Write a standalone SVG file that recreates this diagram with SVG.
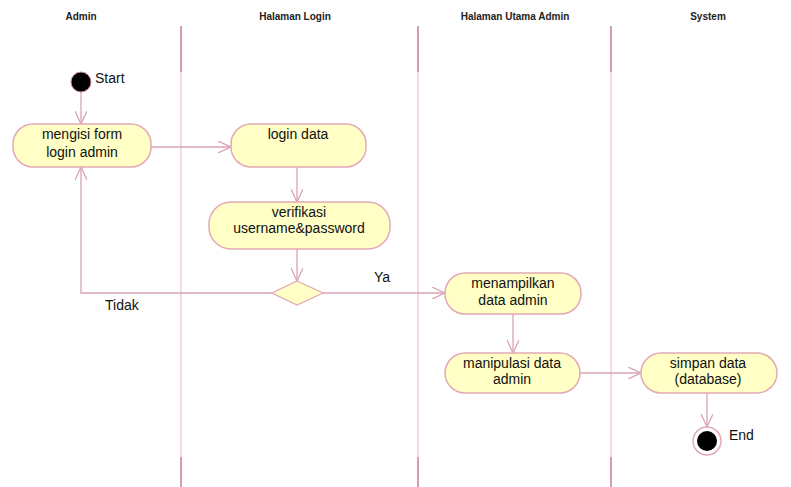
<svg xmlns="http://www.w3.org/2000/svg" width="791" height="487" viewBox="0 0 791 487">
<defs>
<style>
.hdr{font-family:"Liberation Sans",Arial,sans-serif;font-size:10px;font-weight:bold;fill:#222;text-anchor:middle}
.t{font-family:"Liberation Sans",Arial,sans-serif;font-size:14px;fill:#111;text-anchor:middle}
.lbl{font-family:"Liberation Sans",Arial,sans-serif;font-size:14px;fill:#111}
.act{fill:#ffffc6;stroke:#e3a9b4;stroke-width:1.5}
.conn{fill:none;stroke:#d9a3b6;stroke-width:1.3}
.laneDark{stroke:#c97a9a;stroke-width:1.5}
.laneLight{stroke:#ebc8d4;stroke-width:1.3}
</style>
<marker id="arr" viewBox="0 0 14 12" refX="13" refY="6" markerWidth="14" markerHeight="12" markerUnits="userSpaceOnUse" orient="auto">
<path d="M0,0 L13,6 L0,12" fill="none" stroke="#d9a3b6" stroke-width="1.3"/>
</marker>
</defs>
<rect width="791" height="487" fill="#ffffff"/>
<g id="lanes">
<text class="hdr" x="81" y="20">Admin</text>
<text class="hdr" x="295" y="20">Halaman Login</text>
<text class="hdr" x="515" y="20">Halaman Utama Admin</text>
<text class="hdr" x="708" y="20">System</text>
<line class="laneDark" x1="181" y1="26" x2="181" y2="72"/>
<line class="laneLight" x1="181" y1="72" x2="181" y2="457"/>
<line class="laneDark" x1="181" y1="457" x2="181" y2="487"/>
<line class="laneDark" x1="418" y1="26" x2="418" y2="72"/>
<line class="laneLight" x1="418" y1="72" x2="418" y2="457"/>
<line class="laneDark" x1="418" y1="457" x2="418" y2="487"/>
<line class="laneDark" x1="611" y1="26" x2="611" y2="72"/>
<line class="laneLight" x1="611" y1="72" x2="611" y2="457"/>
<line class="laneDark" x1="611" y1="457" x2="611" y2="487"/>
</g>
<g id="connectors">
<line class="conn" x1="81" y1="92" x2="81" y2="124" marker-end="url(#arr)"/>
<line class="conn" x1="151" y1="147" x2="231" y2="147" marker-end="url(#arr)"/>
<line class="conn" x1="297" y1="167" x2="297" y2="202" marker-end="url(#arr)"/>
<line class="conn" x1="297" y1="249" x2="297" y2="281" marker-end="url(#arr)"/>
<line class="conn" x1="323" y1="293" x2="445" y2="293" marker-end="url(#arr)"/>
<polyline class="conn" points="272,293 81,293 81,167" marker-end="url(#arr)"/>
<line class="conn" x1="513" y1="314" x2="513" y2="353" marker-end="url(#arr)"/>
<line class="conn" x1="580" y1="373" x2="641" y2="373" marker-end="url(#arr)"/>
<line class="conn" x1="707" y1="393" x2="707" y2="427" marker-end="url(#arr)"/>
<text class="lbl" x="374" y="282">Ya</text>
<text class="lbl" x="105" y="310">Tidak</text>
</g>
<g id="start">
<circle cx="81" cy="82" r="10" fill="#000" stroke="#c98aa0" stroke-width="1"/>
<text class="lbl" x="95" y="83">Start</text>
</g>
<g id="mengisi">
<rect class="act" x="13" y="124" width="138" height="43" rx="20" ry="20"/>
<text class="t" x="82" y="139">mengisi form</text>
<text class="t" x="82" y="157">login admin</text>
</g>
<g id="login">
<rect class="act" x="231" y="124" width="135" height="43" rx="20" ry="20"/>
<text class="t" x="298" y="139">login data</text>
</g>
<g id="verifikasi">
<rect class="act" x="209" y="202" width="181" height="47" rx="22" ry="22"/>
<text class="t" x="299" y="217">verifikasi</text>
<text class="t" x="299" y="233">username&amp;password</text>
</g>
<g id="decision">
<polygon points="297,281 323,293 297,305 272,293" fill="#ffffc6" stroke="#e3a9b4" stroke-width="1.3"/>
</g>
<g id="menampilkan">
<rect class="act" x="445" y="273" width="136" height="41" rx="20" ry="20"/>
<text class="t" x="513" y="288">menampilkan</text>
<text class="t" x="513" y="305">data admin</text>
</g>
<g id="manipulasi">
<rect class="act" x="445" y="353" width="135" height="40" rx="20" ry="20"/>
<text class="t" x="512" y="368">manipulasi data</text>
<text class="t" x="512" y="384">admin</text>
</g>
<g id="simpan">
<rect class="act" x="641" y="353" width="136" height="40" rx="20" ry="20"/>
<text class="t" x="708" y="368">simpan data</text>
<text class="t" x="708" y="384">(database)</text>
</g>
<g id="end">
<circle cx="707" cy="441" r="14" fill="#fff" stroke="#e3a9b4" stroke-width="1.5"/>
<circle cx="707" cy="441" r="10" fill="#000"/>
<text class="lbl" x="729" y="440">End</text>
</g>
</svg>
